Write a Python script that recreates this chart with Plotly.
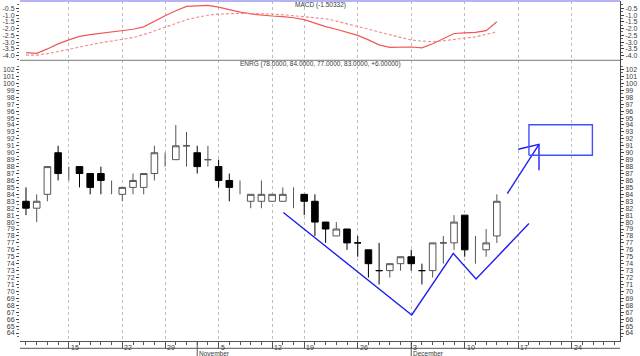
import plotly.graph_objects as go

# ---- price data (one bar per trading day, x = day index) ----
opens  = [83, 82, 84, 90, 87, 88, 87, 87, 85, 84, 85, 85, 87, 89, 89, 91, 90, 89, 88, 86,
          85, 83, 83, 83, 83, 84, 84, 83, 80, 78, 79, 77, 76, 73, 73, 74, 75, 73, 73, 77,
          77, 81, 76, 76, 78]
highs  = [85, 84, 88, 91, 88, 88, 87, 88, 86, 85, 87, 87, 91, 90, 94, 93, 91, 91, 89, 87,
          86, 84, 86, 84, 85, 85, 84, 84, 80, 80, 79, 78, 76, 77, 74, 75, 76, 74, 77, 78,
          81, 81, 78, 79, 84]
lows   = [81, 80, 83, 86, 86, 85, 84, 84, 84, 83, 84, 84, 86, 88, 89, 88, 87, 88, 85, 83,
          84, 82, 82, 83, 83, 82, 81, 78, 77, 78, 76, 75, 72, 71, 72, 73, 73, 71, 72, 74,
          76, 75, 74, 75, 77]
closes = [82, 83, 88, 87, 87, 87, 85, 86, 85, 85, 86, 87, 90, 89, 91, 91, 88, 89, 86, 85,
          85, 84, 84, 84, 84, 84, 83, 80, 79, 79, 77, 77, 74, 73, 74, 75, 74, 73, 77, 77,
          80, 76, 76, 77, 83]
range_only = [False, False, False, False, True, False, False, False, True, False,
              False, False, False, True, False, False, False, False, False, False,
              True, False, False, False, False, True, False, False, False, False,
              False, False, False, False, False, False, False, False, False, False,
              False, False, True, False, False]

# ---- MACD panel ----
macd   = [-3.78, -3.83, -3.50, -3.13, -2.83, -2.58, -2.44, -2.35, -2.26, -2.17,
          -2.05, -1.87, -1.45, -1.05, -0.68, -0.36, -0.32, -0.28, -0.41, -0.60,
          -0.79, -0.92, -1.02, -1.07, -1.12, -1.20, -1.34, -1.62, -1.85, -2.05,
          -2.30, -2.50, -2.83, -3.20, -3.38, -3.36, -3.36, -3.42, -3.12, -2.75,
          -2.36, -2.32, -2.28, -2.15, -1.50]
signal = [-3.96, -3.96, -3.85, -3.68, -3.50, -3.34, -3.18, -3.04, -2.92, -2.80,
          -2.66, -2.45, -2.17, -1.87, -1.60, -1.35, -1.16, -1.01, -0.93, -0.89,
          -0.88, -0.88, -0.89, -0.93, -0.98, -1.03, -1.12, -1.20, -1.27, -1.45,
          -1.65, -1.85, -2.05, -2.30, -2.50, -2.68, -2.85, -2.92, -2.97, -2.90,
          -2.78, -2.70, -2.61, -2.45, -2.24]
macd_label = "MACD (-1.50332)"
price_label = "ENRG (78.0000, 84.0000, 77.0000, 83.0000, +6.00000)"

# ---- axis labels ----
tick_days   = [4, 9, 13, 18, 23, 26, 31, 36, 41, 46, 51]
tick_labels = ["15", "22", "29", "5", "12", "19", "26", "3", "10", "17", "24"]
month_days   = [16, 36]
month_labels = ["November", "December"]
price_ticks = list(range(64, 103))
macd_ticks  = [-0.5, -1.0, -1.5, -2.0, -2.5, -3.0, -3.5, -4.0]

# ---- hand-drawn annotations (in day index / price units) ----
trend_x = [24.05, 36.05, 39.93, 42.06, 47.0]
trend_y = [81.38, 66.6, 75.48, 71.78, 79.8]
arrow_x = [44.98, 47.94]
arrow_y = [84.12, 91.2]
head_x = [46.0, 47.94, 47.94]
head_y = [90.5, 91.2, 87.47]
box_x = [47.0, 52.93]
box_y = [89.63, 94.04]

X_RANGE = [-0.56, 55.51]
P_RANGE = [62.85, 103.33]
M_RANGE = [-4.34, 0.037]
SPLIT = 0.8256
FONT = "Liberation Sans, Arial, sans-serif"
TXT = "#3a3a3a"

days = list(range(len(opens)))
cd = [i for i in days if not range_only[i]]
ro = [i for i in days if range_only[i]]

fig = go.Figure()
fig.add_trace(go.Candlestick(
    x=cd, open=[opens[i] for i in cd], high=[highs[i] for i in cd],
    low=[lows[i] for i in cd], close=[closes[i] for i in cd],
    increasing=dict(fillcolor="#ffffff", line=dict(color="#555555", width=1)),
    decreasing=dict(fillcolor="#000000", line=dict(color="#000000", width=1)),
    whiskerwidth=0, showlegend=False, hoverinfo="skip", xaxis="x", yaxis="y"))
fig.add_trace(go.Ohlc(
    x=ro, open=[opens[i] for i in ro], high=[highs[i] for i in ro],
    low=[lows[i] for i in ro], close=[closes[i] for i in ro], tickwidth=0,
    increasing=dict(line=dict(color="#555555", width=1)),
    decreasing=dict(line=dict(color="#555555", width=1)),
    showlegend=False, hoverinfo="skip", xaxis="x", yaxis="y3"))

blue = "#1f1ff2"
fig.add_trace(go.Scatter(x=trend_x, y=trend_y, mode="lines", line=dict(color=blue, width=1.4),
                         showlegend=False, hoverinfo="skip", yaxis="y"))
fig.add_trace(go.Scatter(x=arrow_x, y=arrow_y, mode="lines", line=dict(color=blue, width=1.4),
                         showlegend=False, hoverinfo="skip", yaxis="y"))
fig.add_trace(go.Scatter(x=head_x, y=head_y, mode="lines", line=dict(color=blue, width=1.4),
                         showlegend=False, hoverinfo="skip", yaxis="y"))
fig.add_trace(go.Scatter(x=[box_x[0], box_x[1], box_x[1], box_x[0], box_x[0]],
                         y=[box_y[0], box_y[0], box_y[1], box_y[1], box_y[0]],
                         mode="lines", line=dict(color="#4050ff", width=1.4),
                         showlegend=False, hoverinfo="skip", yaxis="y"))

fig.add_trace(go.Scatter(x=days, y=macd, mode="lines", line=dict(color="#f25656", width=1.2),
                         showlegend=False, hoverinfo="skip", yaxis="y2"))
fig.add_trace(go.Scatter(x=days, y=signal, mode="lines",
                         line=dict(color="#f28a8a", width=1.1, dash="3px,2px"),
                         showlegend=False, hoverinfo="skip", yaxis="y4"))

tickfont = dict(family=FONT, size=7, color=TXT)
common_y = dict(ticks="outside", ticklen=3, tickcolor="#444", tickfont=tickfont,
                showgrid=False, zeroline=False, fixedrange=True, automargin=False)

fig.update_layout(
    width=640, height=356,
    margin=dict(l=20, r=20, t=1, b=15, pad=0, autoexpand=False),
    paper_bgcolor="white", plot_bgcolor="white",
    boxgap=0.12,
    xaxis=dict(range=X_RANGE, anchor="y", showgrid=True, gridcolor="#bcbcbc",
               griddash="3px,3px", gridwidth=1, tickmode="array", tickvals=tick_days,
               showticklabels=False, ticks="outside", ticklen=7, tickcolor="#555",
               minor=dict(ticks="outside", ticklen=3, tickcolor="#555",
                          tickmode="linear", tick0=0, dtick=1, showgrid=False),
               showline=True, linecolor="#555", linewidth=1, zeroline=False,
               rangeslider=dict(visible=False), fixedrange=True, automargin=False),
    yaxis=dict(domain=[0, SPLIT], range=P_RANGE, anchor="x", tickmode="array",
               tickvals=price_ticks,
               minor=dict(ticks="outside", ticklen=2, tickcolor="#666",
                          tickmode="linear", tick0=0.5, dtick=1),
               **common_y),
    yaxis3=dict(range=P_RANGE, overlaying="y", side="right", anchor="x",
                tickmode="array", tickvals=price_ticks, showline=True,
                linecolor="#444", linewidth=1,
                minor=dict(ticks="outside", ticklen=2, tickcolor="#666",
                           tickmode="linear", tick0=0.5, dtick=1),
                **common_y),
    yaxis2=dict(domain=[SPLIT, 1], range=M_RANGE, anchor="x", tickmode="array",
                tickvals=macd_ticks, ticktext=[f"{v:.1f}" for v in macd_ticks],
                minor=dict(ticks="outside", ticklen=2, tickcolor="#666",
                           tickmode="linear", tick0=-0.25, dtick=0.5),
                **common_y),
    yaxis4=dict(range=M_RANGE, overlaying="y2", side="right", anchor="x",
                tickmode="array", tickvals=macd_ticks,
                ticktext=[f"{v:.1f}" for v in macd_ticks], showline=True,
                linecolor="#444", linewidth=1,
                minor=dict(ticks="outside", ticklen=2, tickcolor="#666",
                           tickmode="linear", tick0=-0.25, dtick=0.5),
                **common_y),
)

shapes = [
    dict(type="line", xref="paper", yref="paper", x0=0, x1=1, y0=SPLIT, y1=SPLIT,
         line=dict(color="#777", width=1)),
    dict(type="line", xref="paper", yref="paper", x0=0, x1=1, y0=1, y1=1,
         line=dict(color="#b4b4f4", width=2)),
    dict(type="line", xref="paper", yref="paper", x0=0, x1=1, y0=-0.0215, y1=-0.0215,
         line=dict(color="#555", width=1)),
]
for d in month_days:
    shapes.append(dict(type="line", xref="x", yref="paper", x0=d, x1=d, y0=0, y1=-0.05,
                       line=dict(color="#555", width=1)))
fig.update_layout(shapes=shapes)

ann = []
for d, t in zip(tick_days, tick_labels):
    ann.append(dict(x=d, y=0, xref="x", yref="paper", text=t, showarrow=False,
                    xanchor="left", yanchor="top", xshift=1, yshift=-1.5, borderpad=0,
                    font=dict(family=FONT, size=7, color=TXT)))
for d, t in zip(month_days, month_labels):
    ann.append(dict(x=d, y=0, xref="x", yref="paper", text=t, showarrow=False,
                    xanchor="left", yanchor="top", xshift=1, yshift=-7.5, borderpad=0,
                    font=dict(family=FONT, size=6.5, color=TXT)))
ann.append(dict(x=0.5, y=0.9895, xref="paper", yref="paper", text=macd_label,
                showarrow=False, xanchor="center", yanchor="middle",
                font=dict(family=FONT, size=6.5, color=TXT)))
ann.append(dict(x=0.5, y=0.816, xref="paper", yref="paper", text=price_label,
                showarrow=False, xanchor="center", yanchor="middle",
                font=dict(family=FONT, size=6.5, color=TXT)))
fig.update_layout(annotations=ann)

fig.write_html("out.html", config={"displayModeBar": False},
               post_script="document.body.style.margin='0px';")
